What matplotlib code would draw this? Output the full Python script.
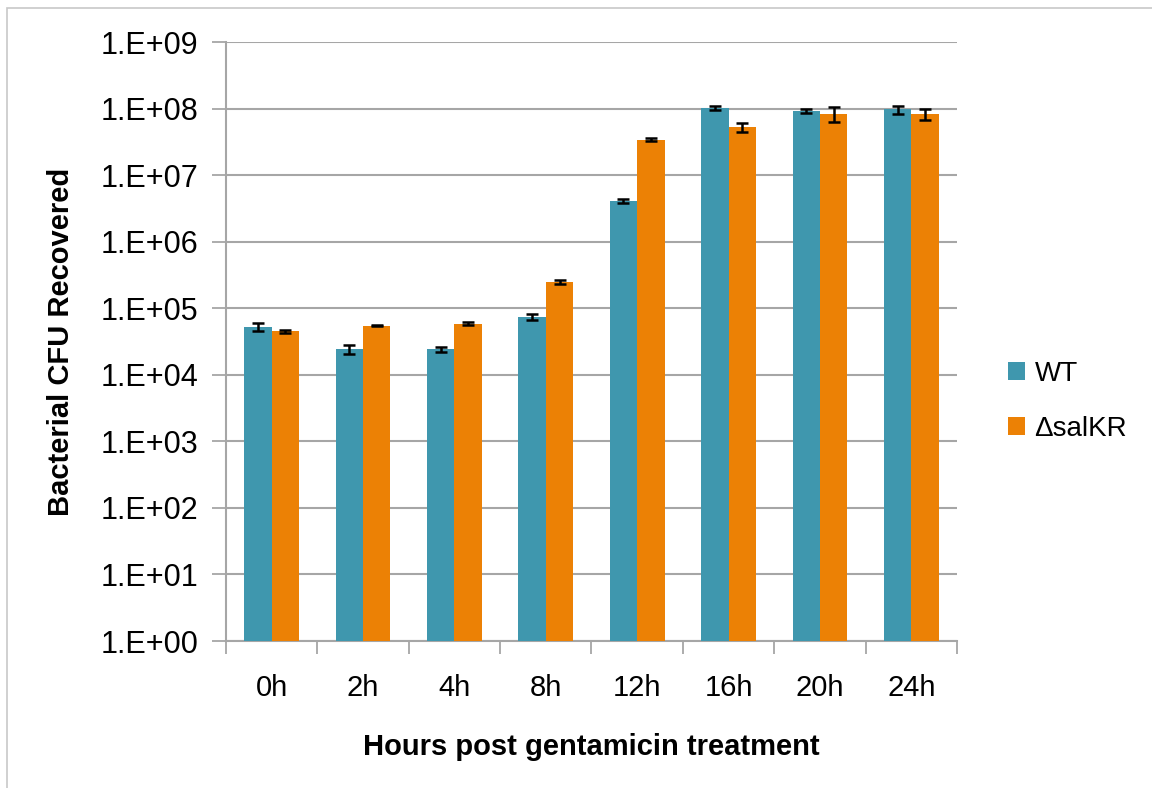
import matplotlib.pyplot as plt
import numpy as np
from matplotlib.patches import Rectangle
from matplotlib.ticker import FixedLocator, NullFormatter

plt.rcParams['font.family'] = ['Liberation Sans', 'DejaVu Sans']

hours = ['0h', '2h', '4h', '8h', '12h', '16h', '20h', '24h']
wt = [5.2e4, 2.4e4, 2.4e4, 7.4e4, 4.1e6, 1.02e8, 9.1e7, 9.7e7]
wt_err = [7e3, 3.7e3, 2e3, 7.5e3, 3.5e5, 7e6, 6e6, 1.3e7]
salkr = [4.5e4, 5.5e4, 5.85e4, 2.46e5, 3.4e7, 5.2e7, 8.4e7, 8.3e7]
salkr_err = [2.4e3, 1e3, 3e3, 1.7e4, 1.8e6, 8e6, 2.2e7, 1.6e7]
series = ['WT', 'ΔsalKR']
yticks = [10.0 ** k for k in range(0, 10)]
ytick_labels = ['1.E+%02d' % k for k in range(0, 10)]

teal = '#3F97AE'
orange = '#EC8105'
grid_c = '#A6A6A6'

fig = plt.figure(figsize=(11.52, 7.88), dpi=100)
ax = fig.add_axes([0.1962, 0.1865, 0.6345, 0.7602])

# outer chart border
fig.patches.append(Rectangle((7 / 1152, -0.1), 1.2, 1 - 8 / 788 + 0.1,
                             transform=fig.transFigure, fill=False,
                             edgecolor='#C8C8C8', linewidth=1.2))

x = np.arange(len(hours))
w = 0.3
err_kw = dict(ecolor='black', elinewidth=1.8, capsize=4.5, capthick=1.8)
ax.bar(x - w / 2, wt, w, color=teal, label=series[0], yerr=wt_err,
       error_kw=err_kw, zorder=3)
ax.bar(x + w / 2, salkr, w, color=orange, label=series[1], yerr=salkr_err,
       error_kw=err_kw, zorder=3)

ax.set_yscale('log')
ax.set_ylim(1, 1e9)
ax.set_xlim(-0.5, len(hours) - 0.5)
ax.yaxis.set_major_locator(FixedLocator(yticks))
ax.set_yticklabels(ytick_labels)
ax.yaxis.set_minor_locator(FixedLocator([]))
ax.yaxis.set_minor_formatter(NullFormatter())

ax.set_xticks(x)
ax.set_xticklabels(hours)
ax.set_xticks(np.arange(-0.5, len(hours)), minor=True)
ax.tick_params(axis='x', which='major', length=0, pad=24, labelsize=21)
ax.tick_params(axis='x', which='minor', length=9, color=grid_c, width=1.3)
ax.tick_params(axis='y', which='major', length=10, color=grid_c, width=1.3,
               pad=10, labelsize=22)

ax.grid(axis='y', color=grid_c, linewidth=1.5, zorder=0)
ax.set_axisbelow(True)
for s in ['top', 'right']:
    ax.spines[s].set_visible(False)
for s in ['left', 'bottom']:
    ax.spines[s].set_color(grid_c)
    ax.spines[s].set_linewidth(1.5)

ax.set_xlabel('Hours post gentamicin treatment', fontsize=21,
              fontweight='bold', labelpad=22)
ax.set_ylabel('Bacterial CFU Recovered', fontsize=21, fontweight='bold',
              labelpad=18)

ax.legend(loc='center left', bbox_to_anchor=(1.035, 0.40), frameon=False,
          fontsize=20, handlelength=0.62, handleheight=0.62, handletextpad=0.35,
          labelspacing=1.05)

fig.savefig('out.png', dpi=100)
